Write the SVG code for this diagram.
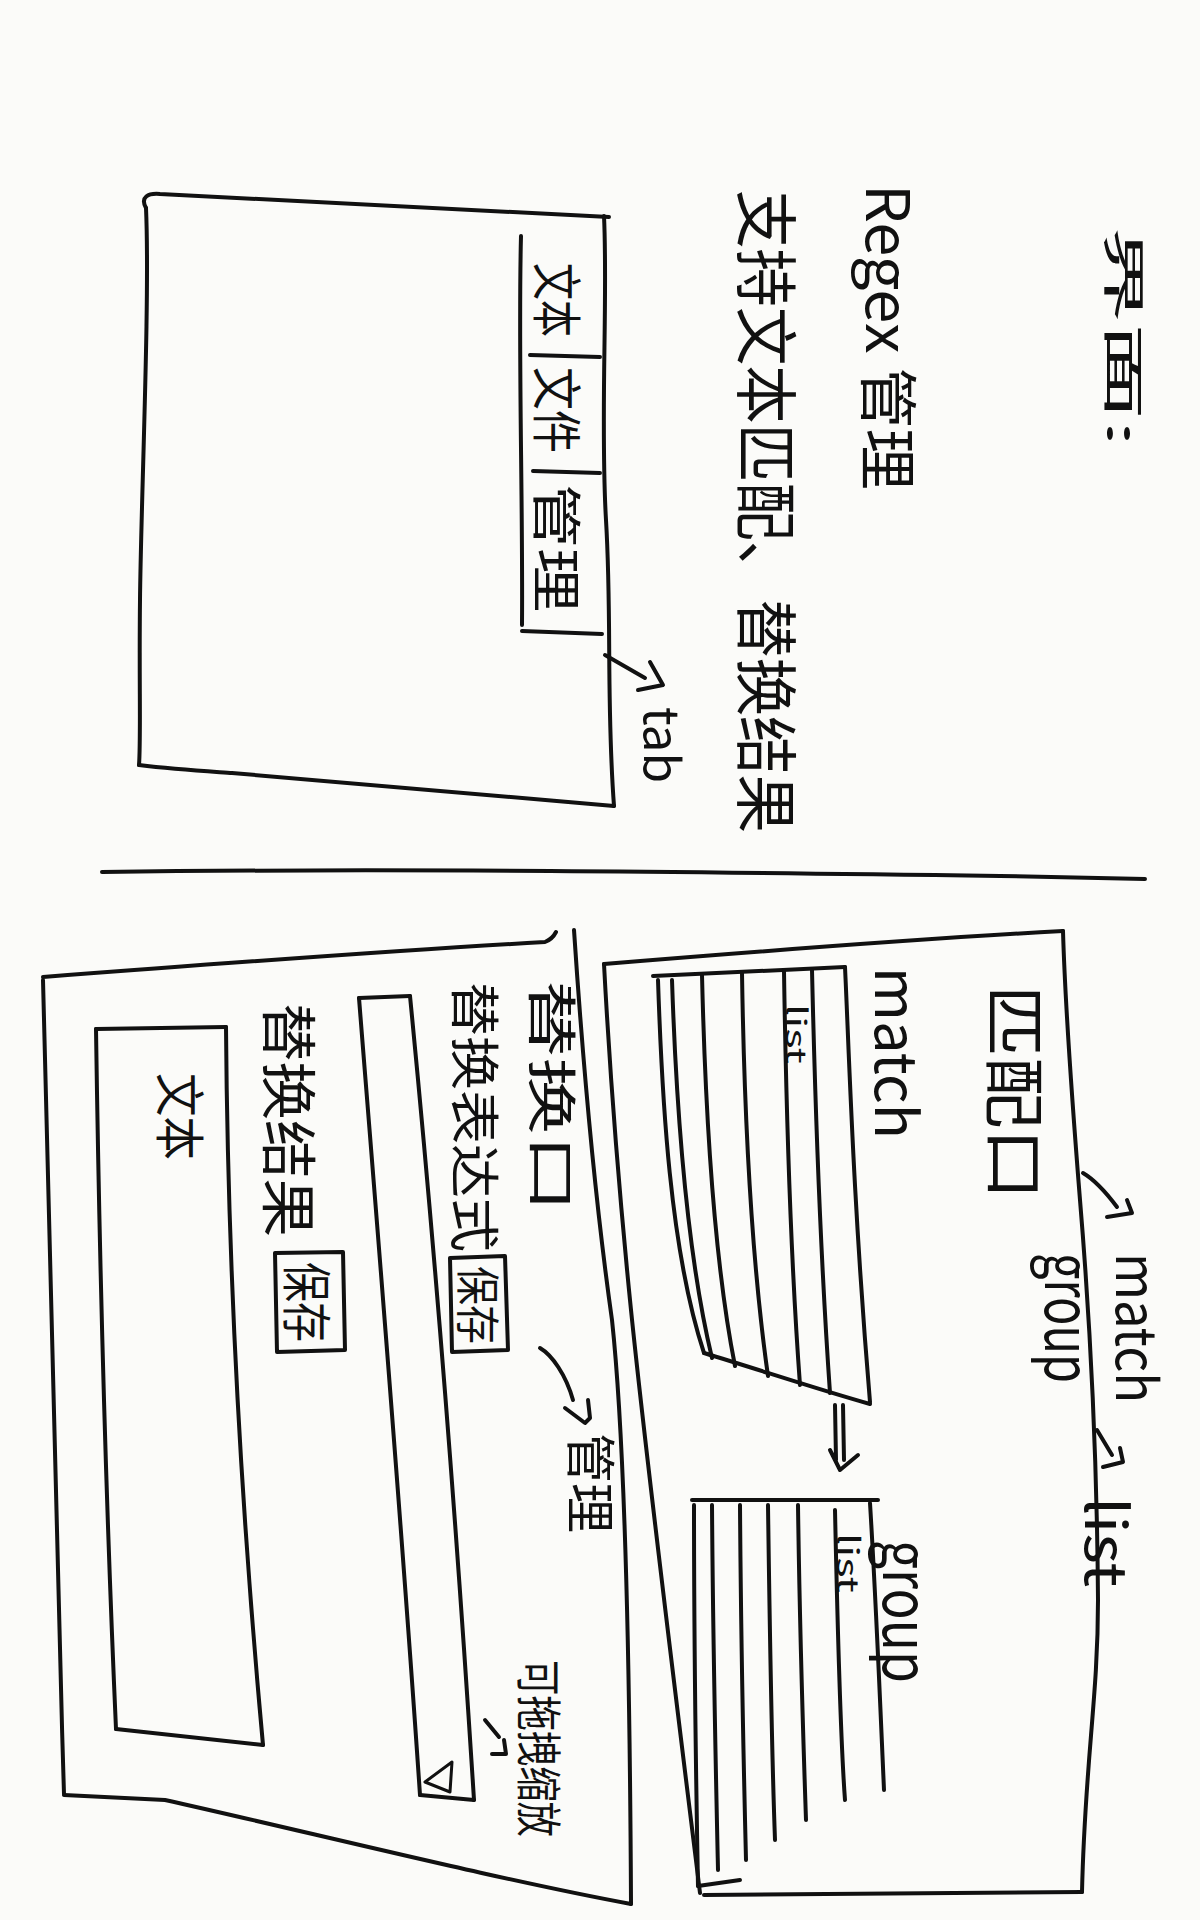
<svg xmlns="http://www.w3.org/2000/svg" width="1200" height="1920" viewBox="0 0 1200 1920">
<style>
.s{fill:none;stroke:#111;stroke-width:4;stroke-linecap:round;stroke-linejoin:round}
.f{fill:none;stroke:#111;stroke-width:3;stroke-linecap:round;stroke-linejoin:round}
.t{font-family:"Noto Sans CJK SC","Noto Sans",sans-serif;fill:#111;dominant-baseline:central;font-weight:400}
</style>
<rect width="1200" height="1920" fill="#fbfbf9"/>

<g id="title">
<text class="t" font-size="85" transform="translate(1127,226) rotate(90) scale(1,0.5)" textLength="221" lengthAdjust="spacingAndGlyphs">界面:</text>
<text class="t" font-size="70" transform="translate(892,184) rotate(90) scale(1,0.85)" textLength="306" lengthAdjust="spacingAndGlyphs">Regex 管理</text>
<text class="t" font-size="70" transform="translate(770,190) rotate(90) scale(1,0.9)" textLength="643" lengthAdjust="spacingAndGlyphs">支持文本匹配、替换结果</text>
</g>

<g id="main-window">
<path class="s" d="M146,208 C140,197 148,193 160,194 L609,217"/>
<path class="s" d="M146,208 C150,300 141,500 140,600 C139,680 141,740 139,765"/>
<path class="s" d="M139,765 C180,770 220,772 232,773 L614,806"/>
<path class="s" d="M604,216 C608,300 600,420 606,520 C612,620 606,700 614,806"/>
</g>

<g id="tab-bar">
<path class="s" d="M521,236 C518,350 523,500 522,625"/>
<path class="s" d="M530,355 L600,357"/>
<path class="s" d="M533,471 L600,473"/>
<path class="s" d="M522,631 L602,634"/>
<text class="t" font-size="50" transform="translate(560,263) rotate(90)" textLength="74" lengthAdjust="spacingAndGlyphs">文本</text>
<text class="t" font-size="50" transform="translate(560,367) rotate(90)" textLength="86" lengthAdjust="spacingAndGlyphs">文件</text>
<text class="t" font-size="50" transform="translate(560,484) rotate(90)" textLength="128" lengthAdjust="spacingAndGlyphs">管理</text>
</g>

<g id="tab-note">
<text class="t" font-size="48" transform="translate(665,707) rotate(90)" textLength="76" lengthAdjust="spacingAndGlyphs">tab</text>
</g>

<g id="divider">
<path class="s" d="M102,872 C400,868 700,872 1000,876 L1145,879"/>
</g>

<g id="match-panel">
<path class="s" d="M604,964 C750,952 900,940 1063,931"/>
<path class="s" d="M1063,931 C1065,1000 1072,1100 1080,1200 C1090,1320 1097,1450 1098,1600 C1098,1700 1085,1760 1082,1892"/>
<path class="s" d="M704,1895 L1082,1892"/>
<path class="s" d="M604,964 C607,1020 615,1150 630,1300 C645,1450 670,1650 700,1893"/>
<text class="t" font-size="62" transform="translate(1018,985) rotate(90)" textLength="215" lengthAdjust="spacingAndGlyphs">匹配口</text>
</g>

<g id="match-list">
<path class="s" d="M653,976 L845,967"/>
<path class="s" d="M845,967 C849,1050 853,1200 870,1402"/>
<path class="s" d="M704,1353 C760,1370 820,1390 870,1404"/>
<path class="s" d="M658,980 C662,1100 670,1250 704,1353"/>
<path class="s" d="M672,980 C676,1100 686,1250 712,1358"/>
<path class="s" d="M702,975 C705,1100 712,1250 735,1366"/>
<path class="s" d="M742,973 C744,1100 750,1250 768,1376"/>
<path class="s" d="M784,971 C786,1100 790,1250 800,1385"/>
<path class="s" d="M812,970 C815,1100 820,1250 830,1393"/>
<text class="t" font-size="28" transform="translate(798,1004) rotate(90)" textLength="60" lengthAdjust="spacingAndGlyphs">list</text>
<text class="t" font-size="58" transform="translate(900,967) rotate(90)" textLength="172" lengthAdjust="spacingAndGlyphs">match</text>
</g>

<g id="group-list">
<path class="s" d="M692,1500 L878,1500"/>
<path class="s" d="M870,1503 C876,1600 880,1700 884,1790"/>
<path class="s" d="M694,1505 C694,1650 696,1780 698,1886"/>
<path class="s" d="M698,1886 L740,1880"/>
<path class="s" d="M712,1505 C713,1650 716,1780 718,1870"/>
<path class="s" d="M740,1505 C741,1650 744,1780 746,1860"/>
<path class="s" d="M768,1505 C770,1650 772,1760 775,1840"/>
<path class="s" d="M798,1505 C800,1650 804,1760 806,1820"/>
<path class="s" d="M835,1510 C838,1650 842,1760 845,1800"/>
<text class="t" font-size="30" transform="translate(850,1533) rotate(90)" textLength="60" lengthAdjust="spacingAndGlyphs">list</text>
<text class="t" font-size="62" transform="translate(910,1540) rotate(90)" textLength="143" lengthAdjust="spacingAndGlyphs">group</text>
</g>

<g id="replace-panel">
<path class="s" d="M43,977 C200,965 400,950 545,942 C550,940 554,936 556,932"/>
<path class="s" d="M574,930 C582,1050 595,1200 612,1320 C626,1450 630,1700 631,1904"/>
<path class="s" d="M64,1795 L165,1800 C300,1830 500,1880 631,1904"/>
<path class="s" d="M43,980 C48,1200 55,1500 64,1794"/>
<text class="t" font-size="62" transform="translate(555,980) rotate(90) scale(1,0.8)" textLength="232" lengthAdjust="spacingAndGlyphs">替换口</text>
</g>

<g id="replace-expr">
<path class="s" d="M359,998 L410,996"/>
<path class="s" d="M359,998 C375,1200 400,1500 420,1795"/>
<path class="s" d="M410,996 C430,1200 455,1500 474,1800"/>
<path class="s" d="M420,1795 L474,1800"/>
<path class="f" d="M452,1762 L425,1782 L450,1792 Z"/>
<text class="t" font-size="50" transform="translate(478,982) rotate(90)" textLength="270" lengthAdjust="spacingAndGlyphs">替换表达式</text>
<path class="s" d="M450,1258 L505,1256 L508,1350 L452,1352 Z"/>
<text class="t" font-size="44" transform="translate(480,1266) rotate(90)" textLength="78" lengthAdjust="spacingAndGlyphs">保存</text>
</g>

<g id="replace-result">
<text class="t" font-size="56" transform="translate(292,1003) rotate(90)" textLength="234" lengthAdjust="spacingAndGlyphs">替换结果</text>
<path class="s" d="M275,1253 L343,1252 L345,1350 L277,1352 Z"/>
<text class="t" font-size="50" transform="translate(310,1262) rotate(90)" textLength="80" lengthAdjust="spacingAndGlyphs">保存</text>
</g>

<g id="result-text">
<path class="s" d="M96,1029 L226,1027"/>
<path class="s" d="M226,1027 C228,1300 245,1550 263,1745"/>
<path class="s" d="M116,1729 L263,1745"/>
<path class="s" d="M96,1029 C100,1300 108,1550 116,1729"/>
<text class="t" font-size="50" transform="translate(183,1073) rotate(90)" textLength="87" lengthAdjust="spacingAndGlyphs">文本</text>
</g>

<g id="notes">
<text class="t" font-size="56" transform="translate(1140,1253) rotate(90)" textLength="150" lengthAdjust="spacingAndGlyphs">match</text>
<text class="t" font-size="62" transform="translate(1072,1253) rotate(90)" textLength="130" lengthAdjust="spacingAndGlyphs">group</text>
<text class="t" font-size="58" transform="translate(1110,1497) rotate(90)" textLength="90" lengthAdjust="spacingAndGlyphs">list</text>
<text class="t" font-size="50" transform="translate(594,1433) rotate(90)" textLength="100" lengthAdjust="spacingAndGlyphs">管理</text>
<text class="t" font-size="46" transform="translate(542,1660) rotate(90)" textLength="177" lengthAdjust="spacingAndGlyphs">可拖拽缩放</text>
</g>

<g id="connectors">
<path class="s" d="M605,655 L645,678 M650,662 L663,685 L638,690"/>
<path class="s" d="M1083,1173 C1095,1180 1108,1195 1117,1207 M1107,1217 L1132,1213 L1127,1200"/>
<path class="s" d="M1097,1430 L1112,1455 M1103,1467 L1123,1462 L1120,1448"/>
<path class="s" d="M835,1405 L836,1460 M843,1405 L844,1460 M830,1450 L840,1470 L858,1455"/>
<path class="s" d="M540,1348 C552,1355 566,1375 573,1400 M565,1408 L585,1423 L590,1418 L588,1400"/>
<path class="s" d="M485,1720 L499,1737 M492,1754 L506,1754 L504,1740"/>
</g>
</svg>
